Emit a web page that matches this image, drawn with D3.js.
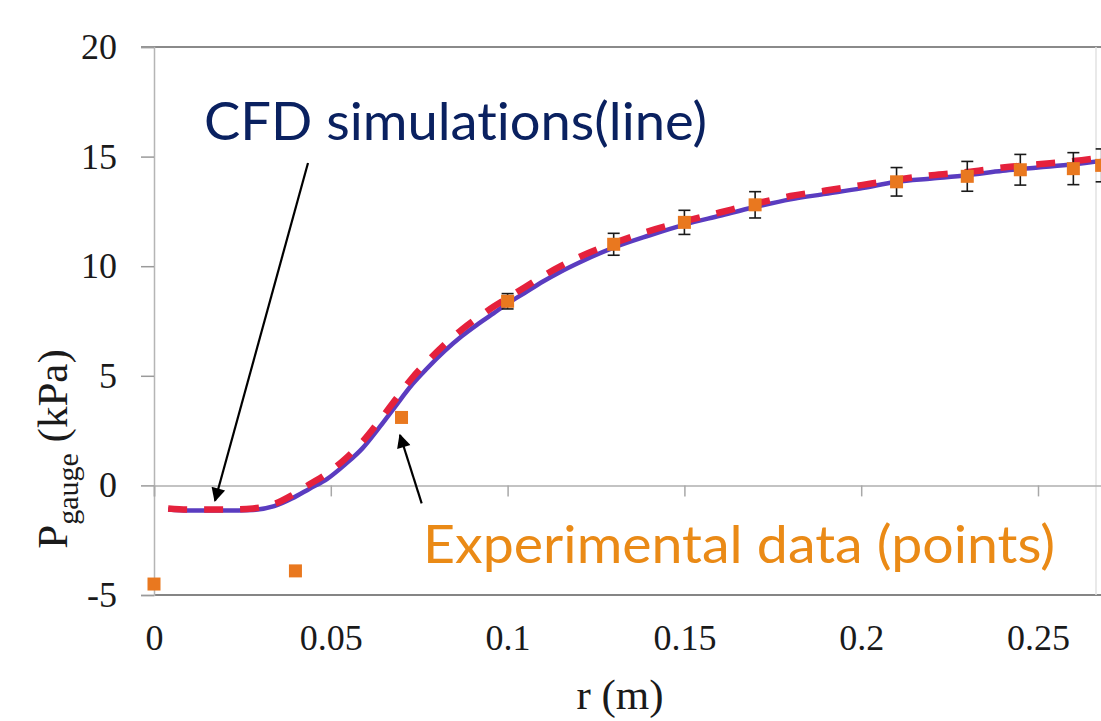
<!DOCTYPE html>
<html>
<head>
<meta charset="utf-8">
<script src="https://cdn.jsdelivr.net/npm/d3@7"></script>
<style>
  html, body { margin: 0; padding: 0; background: #fff; overflow: hidden; }
  svg { display: block; }
  .tick text { font-family: "Liberation Serif", "DejaVu Serif", serif; fill: #1a1a1a; }
</style>
</head>
<body>
<div id="chart"></div>
<script>
'use strict';

// CFD simulation (solid purple line)
var cfdR = [0.004, 0.01, 0.02, 0.028, 0.034, 0.039, 0.044, 0.049, 0.054, 0.059, 0.064, 0.068, 0.073, 0.077, 0.082, 0.087, 0.092, 0.096, 0.1, 0.105, 0.11, 0.115, 0.12, 0.13, 0.14, 0.15, 0.16, 0.17, 0.18, 0.19, 0.2, 0.21, 0.22, 0.23, 0.24, 0.25, 0.26, 0.27];
var cfdSolid = [-1.1, -1.15, -1.15, -1.12, -0.95, -0.6, -0.15, 0.3, 0.95, 1.7, 2.7, 3.55, 4.6, 5.3, 6.1, 6.8, 7.4, 7.85, 8.3, 8.8, 9.3, 9.75, 10.15, 10.85, 11.4, 11.9, 12.3, 12.7, 13.05, 13.3, 13.55, 13.85, 14.0, 14.15, 14.35, 14.5, 14.65, 14.85];
// second CFD run (red dashed line)
var cfdDashed = [-1.05, -1.1, -1.1, -1.05, -0.85, -0.45, 0.05, 0.55, 1.2, 2.0, 3.0, 3.85, 4.9, 5.6, 6.4, 7.1, 7.7, 8.15, 8.55, 9.05, 9.55, 10.0, 10.4, 11.05, 11.6, 12.05, 12.45, 12.85, 13.2, 13.45, 13.7, 13.95, 14.15, 14.3, 14.5, 14.65, 14.8, 15.0];

// experimental points with error bars
var expR = [0, 0.04, 0.07, 0.1, 0.13, 0.15, 0.17, 0.21, 0.23, 0.245, 0.26, 0.268];
var expP = [-4.5, -3.9, 3.1, 8.4, 11.0, 12.0, 12.8, 13.85, 14.1, 14.4, 14.45, 14.6];
var expErr = [0, 0, 0, 0.35, 0.5, 0.55, 0.6, 0.65, 0.68, 0.7, 0.73, 0.75];

var xTicks = [0, 0.05, 0.1, 0.15, 0.2, 0.25];
var yTicks = [-5, 0, 5, 10, 15, 20];

var width = 1101, height = 721;

var svg = d3.select("#chart").append("svg")
  .attr("width", width)
  .attr("height", height);

var x = d3.scaleLinear().domain([0, 0.3]).range([154, 154 + 0.3 * 3536]);
var y = d3.scaleLinear().domain([-5, 20]).range([595, 47]);

// arrowhead
svg.append("defs").append("marker")
  .attr("id", "head")
  .attr("viewBox", "0 0 10 10")
  .attr("refX", 9).attr("refY", 5)
  .attr("markerWidth", 18).attr("markerHeight", 14)
  .attr("markerUnits", "userSpaceOnUse")
  .attr("orient", "auto")
  .append("path")
  .attr("d", "M0,0 L10,5 L0,10 Z")
  .attr("fill", "#000");

// plot area frame
svg.append("line")
  .attr("x1", 141).attr("x2", width)
  .attr("y1", y(20)).attr("y2", y(20))
  .attr("stroke", "#8a8a8a").attr("stroke-width", 2);
svg.append("line")
  .attr("x1", x(0)).attr("x2", width)
  .attr("y1", y(-5)).attr("y2", y(-5))
  .attr("stroke", "#858585").attr("stroke-width", 2);
svg.append("line")
  .attr("x1", 1096).attr("x2", 1096)
  .attr("y1", y(20)).attr("y2", y(-5))
  .attr("stroke", "#e2e2e2").attr("stroke-width", 1.5);

// y axis
var yAxis = svg.append("g")
  .attr("transform", "translate(" + x(0) + ",0)")
  .call(d3.axisLeft(y).tickValues(yTicks).tickSize(13).tickPadding(24)
    .tickFormat(function(d) { return String(d); }));
yAxis.select(".domain").attr("stroke", "#b5b5b5").attr("stroke-width", 1.5);
yAxis.selectAll(".tick line").attr("stroke", "#9a9a9a").attr("stroke-width", 1.5);
yAxis.selectAll(".tick text").style("font-size", "36px");

// x axis crosses at zero, labels sit below the plot
var xAxis = svg.append("g")
  .attr("transform", "translate(0," + y(0) + ")")
  .call(d3.axisBottom(x).tickValues(xTicks).tickSize(11).tickFormat(""));
xAxis.select(".domain").attr("stroke", "#b0b0b0").attr("stroke-width", 1.5);
xAxis.selectAll(".tick line").attr("stroke", "#a8a8a8").attr("stroke-width", 1.5);

var xLabels = svg.append("g")
  .attr("transform", "translate(0," + y(-5) + ")")
  .call(d3.axisBottom(x).tickValues(xTicks).tickSize(0).tickFormat(function(d) { return String(d); }));
xLabels.select(".domain").remove();
xLabels.selectAll(".tick text")
  .attr("y", 650 - y(-5)).attr("dy", 0)
  .style("font-size", "36px");

// axis titles
svg.append("text")
  .attr("x", 620).attr("y", 709)
  .attr("text-anchor", "middle")
  .style("font-family", "Liberation Serif, serif")
  .style("font-size", "43px")
  .attr("fill", "#1a1a1a")
  .text("r (m)");

var yTitle = svg.append("text")
  .attr("transform", "translate(67,449) rotate(-90)")
  .attr("text-anchor", "middle")
  .style("font-family", "Liberation Serif, serif")
  .style("font-size", "43px")
  .attr("fill", "#1a1a1a");
yTitle.append("tspan").text("P");
yTitle.append("tspan").attr("dy", 11).style("font-size", "30px").text("gauge");
yTitle.append("tspan").attr("dy", -11).text(" (kPa)");

// CFD lines
var solidData = cfdR.map(function(r, i) { return [r, cfdSolid[i]]; });
var dashedData = cfdR.map(function(r, i) { return [r, cfdDashed[i]]; });
var line = d3.line()
  .x(function(d) { return x(d[0]); })
  .y(function(d) { return y(d[1]); })
  .curve(d3.curveMonotoneX);

svg.append("path")
  .datum(solidData)
  .attr("d", line)
  .attr("fill", "none")
  .attr("stroke", "#5a3cc0")
  .attr("stroke-width", 4.5);

svg.append("path")
  .datum(dashedData)
  .attr("d", line)
  .attr("fill", "none")
  .attr("stroke", "#e5213c")
  .attr("stroke-width", 6.5)
  .attr("stroke-dasharray", "19,17");

// experimental points
var exp = expR.map(function(r, i) { return {r: r, p: expP[i], e: expErr[i]}; });
var bars = svg.append("g").selectAll("g")
  .data(exp.filter(function(d) { return d.e > 0; }))
  .enter().append("g")
  .attr("stroke", "#1a1a1a").attr("stroke-width", 1.6);
bars.append("line")
  .attr("x1", function(d) { return x(d.r); }).attr("x2", function(d) { return x(d.r); })
  .attr("y1", function(d) { return y(d.p + d.e); }).attr("y2", function(d) { return y(d.p - d.e); });
bars.append("line")
  .attr("x1", function(d) { return x(d.r) - 6; }).attr("x2", function(d) { return x(d.r) + 6; })
  .attr("y1", function(d) { return y(d.p + d.e); }).attr("y2", function(d) { return y(d.p + d.e); });
bars.append("line")
  .attr("x1", function(d) { return x(d.r) - 6; }).attr("x2", function(d) { return x(d.r) + 6; })
  .attr("y1", function(d) { return y(d.p - d.e); }).attr("y2", function(d) { return y(d.p - d.e); });

svg.append("g").selectAll("rect")
  .data(exp)
  .enter().append("rect")
  .attr("x", function(d) { return x(d.r) - 6.5; })
  .attr("y", function(d) { return y(d.p) - 6.5; })
  .attr("width", 13).attr("height", 13)
  .attr("fill", "#e9781f");

// annotations
var arrows = [
  {from: [0.04355, 14.71], to: [0.01725, -0.70]},
  {from: [0.0757, -0.82], to: [0.06957, 2.30]}
];
svg.append("g").selectAll("line")
  .data(arrows)
  .enter().append("line")
  .attr("x1", function(d) { return x(d.from[0]); })
  .attr("y1", function(d) { return y(d.from[1]); })
  .attr("x2", function(d) { return x(d.to[0]); })
  .attr("y2", function(d) { return y(d.to[1]); })
  .attr("stroke", "#000").attr("stroke-width", 2.2)
  .attr("marker-end", "url(#head)");

var notes = [
  {text: "CFD simulations(line)", r: 0.01414, p: 15.76, len: 503, color: "#0a2160"},
  {text: "Experimental data (points)", r: 0.0761, p: -3.55, len: 632, color: "#ea8a16"}
];
svg.append("g").selectAll("text")
  .data(notes)
  .enter().append("text")
  .attr("x", function(d) { return x(d.r); })
  .attr("y", function(d) { return y(d.p); })
  .attr("textLength", function(d) { return d.len; })
  .attr("lengthAdjust", "spacingAndGlyphs")
  .style("font-family", "Lato, 'Open Sans', sans-serif")
  .style("font-size", "52px")
  .style("font-variant-ligatures", "none")
  .style("font-feature-settings", "'liga' 0, 'clig' 0")
  .attr("fill", function(d) { return d.color; })
  .text(function(d) { return d.text; });
</script>
</body>
</html>
